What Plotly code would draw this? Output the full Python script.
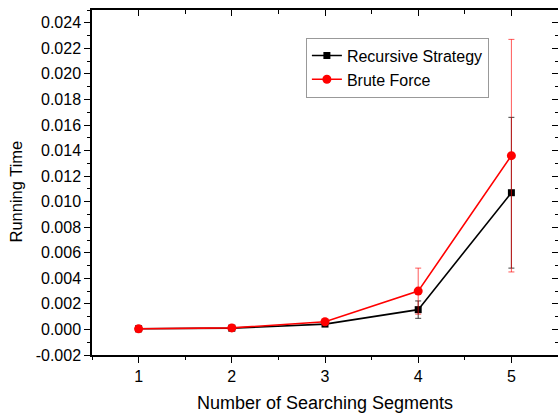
import plotly.graph_objects as go

segments = [1, 2, 3, 4, 5]
recursive_time = [0.00005, 0.0001, 0.00042, 0.00155, 0.0107]
recursive_err = [0.00002, 0.00003, 0.0001, 0.00068, 0.0059]
brute_time = [0.00005, 0.00012, 0.0006, 0.0030, 0.0136]
brute_err = [0.00002, 0.00003, 0.00012, 0.0018, 0.0091]

y_tick_vals = [-0.002, 0.000, 0.002, 0.004, 0.006, 0.008, 0.010, 0.012,
               0.014, 0.016, 0.018, 0.020, 0.022, 0.024]
y_tick_text = ["-0.002", "0.000", "0.002", "0.004", "0.006", "0.008", "0.010",
               "0.012", "0.014", "0.016", "0.018", "0.020", "0.022", "0.024"]
x_tick_vals = [1, 2, 3, 4, 5]

FONT = "Liberation Sans, Arial, sans-serif"

fig = go.Figure()
fig.add_trace(go.Scatter(
    x=segments, y=recursive_time, name="Recursive Strategy",
    mode="lines+markers",
    line=dict(color="#000000", width=1.6),
    marker=dict(symbol="square", size=7, color="#000000"),
    error_y=dict(type="data", array=recursive_err, visible=True,
                 color="rgba(0,0,0,0.75)", thickness=1, width=3),
))
fig.add_trace(go.Scatter(
    x=segments, y=brute_time, name="Brute Force",
    mode="lines+markers",
    line=dict(color="#ff0000", width=1.6),
    marker=dict(symbol="circle", size=9, color="#ff0000"),
    error_y=dict(type="data", array=brute_err, visible=True,
                 color="rgba(255,0,0,0.65)", thickness=1, width=3),
))
# invisible companion trace so the top/right frame axes get drawn
fig.add_trace(go.Scatter(
    x=segments, y=brute_time, xaxis="x2", yaxis="y2", mode="markers",
    marker=dict(opacity=0), showlegend=False, hoverinfo="skip",
))

axis_common = dict(linecolor="#000000", linewidth=1.5, tickcolor="#000000",
                   tickwidth=1, showgrid=False, zeroline=False)

fig.update_layout(
    width=558, height=414,
    margin=dict(l=92, r=0, t=10, b=59),
    paper_bgcolor="white", plot_bgcolor="white",
    font=dict(family=FONT, size=16, color="#000000"),
    showlegend=True,
    legend=dict(x=0.459, y=0.92, xanchor="left", yanchor="top",
                bgcolor="white", bordercolor="#999999", borderwidth=1,
                font=dict(family=FONT, size=16, color="#000000"),
                tracegroupgap=0),
    xaxis=dict(range=[0.5, 5.5], tickvals=x_tick_vals, ticks="outside",
               ticklen=6, showline=True,
               minor=dict(dtick=0.5, ticks="outside", ticklen=3,
                          tickcolor="#000000"),
               title=dict(text="Number of Searching Segments",
                          font=dict(family=FONT, size=18), standoff=12),
               tickfont=dict(family=FONT, size=16),
               **axis_common),
    yaxis=dict(range=[-0.002, 0.025], tickvals=y_tick_vals,
               ticktext=y_tick_text, ticks="outside", ticklen=6,
               showline=True,
               minor=dict(dtick=0.001, tick0=0, ticks="outside", ticklen=3,
                          tickcolor="#000000"),
               tickfont=dict(family=FONT, size=16),
               **axis_common),
    xaxis2=dict(range=[0.5, 5.5], overlaying="x", side="top", anchor="y",
                tickvals=x_tick_vals, ticks="inside", ticklen=6,
                showticklabels=False, showline=True,
                minor=dict(dtick=0.5, ticks="inside", ticklen=4,
                           tickcolor="#000000"),
                **axis_common),
    yaxis2=dict(range=[-0.002, 0.025], overlaying="y", side="right",
                anchor="x", tickvals=y_tick_vals, ticks="inside", ticklen=6,
                showticklabels=False, showline=False,
                minor=dict(dtick=0.001, tick0=0, ticks="inside", ticklen=3,
                           tickcolor="#000000"),
                **axis_common),
    annotations=[dict(text="Running Time", textangle=-90, showarrow=False,
                      xref="paper", yref="paper", x=-0.163, y=0.474,
                      xanchor="center", yanchor="middle",
                      font=dict(family=FONT, size=16.5, color="#000000"))],
)

fig.write_html("out.html")
